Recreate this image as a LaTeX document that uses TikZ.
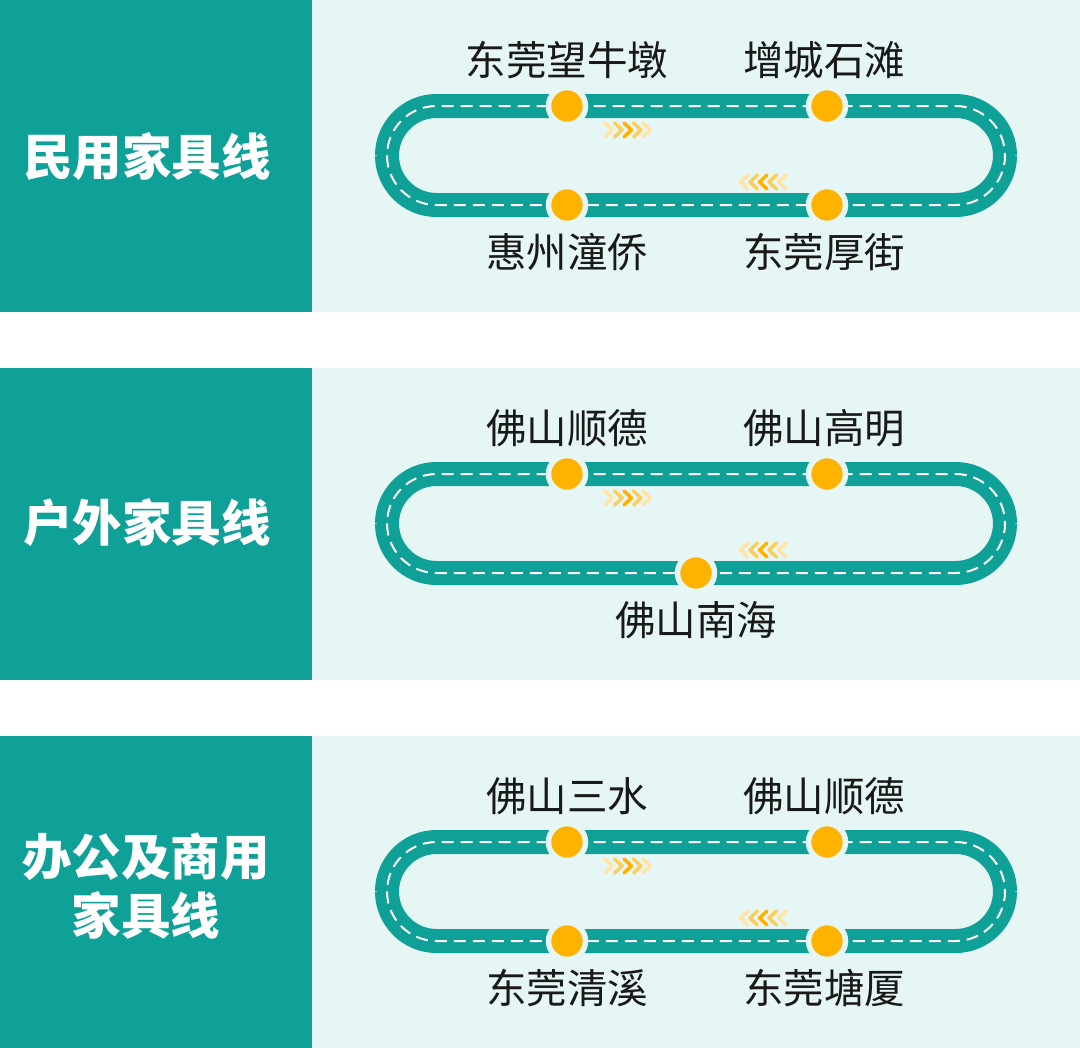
\documentclass[tikz,border=0pt]{standalone}
\usepackage{fontspec}
\setmainfont{Noto Sans CJK SC}
\usetikzlibrary{positioning}
\definecolor{lineteal}{HTML}{0FA098}
\definecolor{panelmint}{HTML}{E5F6F4}
\definecolor{stoporange}{HTML}{FFB300}
\tikzset{
  x=1bp, y=-1bp,
  titlebox/.style={fill=lineteal, draw=none},
  panel/.style={fill=panelmint, draw=none},
  title/.style={text=white, font=\fontsize{49.5bp}{59bp}\selectfont\bfseries, align=center},
  track/.style={draw=lineteal, line width=24bp, rounded corners=49.5bp},
  lane/.style={draw=white, line width=2bp, dash pattern=on 12bp off 7bp, rounded corners=49.5bp},
  stop/.style={circle, fill=stoporange, draw=panelmint, line width=5.5bp, minimum size=37bp, inner sep=0pt},
  place/.style={inner sep=0pt, text=black!90, font=\fontsize{40.5bp}{46bp}\selectfont},
  chev/.style={line width=3.5bp, line cap=round, line join=round}
}

\begin{document}
\begin{tikzpicture}
  \useasboundingbox (0,0) rectangle (1080,1048);

  % civil furniture line
  \begin{scope}
    \fill[titlebox] (0,0) rectangle (312,312);
    \fill[panel] (312,0) rectangle (1080,312);
    \node[title] (T1) at (147,157) {民用家具线};
    \draw[track] (387,106) rectangle (1005,205);
    \draw[lane] (387,106) rectangle (1005,205);
    \foreach \i/\c in {0/35,1/65,2/100,3/65,4/35}
      \draw[chev, draw=stoporange!\c] (605+\i*9.5,123) -- ++(7.5,7) -- ++(-7.5,7);
    \foreach \i/\c in {0/35,1/65,2/100,3/65,4/35}
      \draw[chev, draw=stoporange!\c] (748+\i*9.5,175) -- ++(-7.5,7) -- ++(7.5,7);
    \node[stop] (A1) at (567,106) {};
    \node[stop] (A2) at (827,106) {};
    \node[stop] (A3) at (567,205) {};
    \node[stop] (A4) at (827,205) {};
    \node[place, above=6bp of A1] (LA1) {东莞望牛墩};
    \node[place, above=6bp of A2, xshift=-3bp] (LA2) {增城石滩};
    \node[place, below=7bp of A3] (LA3) {惠州潼侨};
    \node[place, below=7bp of A4, xshift=-3bp] (LA4) {东莞厚街};
  \end{scope}

  % outdoor furniture line
  \begin{scope}[shift={(0,368)}]
    \fill[titlebox] (0,0) rectangle (312,312);
    \fill[panel] (312,0) rectangle (1080,312);
    \node[title] (T2) at (147,155) {户外家具线};
    \draw[track] (387,106) rectangle (1005,205);
    \draw[lane] (387,106) rectangle (1005,205);
    \foreach \i/\c in {0/35,1/65,2/100,3/65,4/35}
      \draw[chev, draw=stoporange!\c] (605+\i*9.5,123) -- ++(7.5,7) -- ++(-7.5,7);
    \foreach \i/\c in {0/35,1/65,2/100,3/65,4/35}
      \draw[chev, draw=stoporange!\c] (748+\i*9.5,175) -- ++(-7.5,7) -- ++(7.5,7);
    \node[stop] (B1) at (567,106) {};
    \node[stop] (B2) at (827,106) {};
    \node[stop] (B3) at (696,205) {};
    \node[place, above=6bp of B1] (LB1) {佛山顺德};
    \node[place, above=6bp of B2, xshift=-3bp] (LB2) {佛山高明};
    \node[place, below=7bp of B3] (LB3) {佛山南海};
  \end{scope}

  % office and commercial furniture line
  \begin{scope}[shift={(0,736)}]
    \fill[titlebox] (0,0) rectangle (312,312);
    \fill[panel] (312,0) rectangle (1080,312);
    \node[title] (T3) at (146,150) {办公及商用\\家具线};
    \draw[track] (387,106) rectangle (1005,205);
    \draw[lane] (387,106) rectangle (1005,205);
    \foreach \i/\c in {0/35,1/65,2/100,3/65,4/35}
      \draw[chev, draw=stoporange!\c] (605+\i*9.5,123) -- ++(7.5,7) -- ++(-7.5,7);
    \foreach \i/\c in {0/35,1/65,2/100,3/65,4/35}
      \draw[chev, draw=stoporange!\c] (748+\i*9.5,175) -- ++(-7.5,7) -- ++(7.5,7);
    \node[stop] (C1) at (567,106) {};
    \node[stop] (C2) at (827,106) {};
    \node[stop] (C3) at (567,205) {};
    \node[stop] (C4) at (827,205) {};
    \node[place, above=6bp of C1] (LC1) {佛山三水};
    \node[place, above=6bp of C2, xshift=-3bp] (LC2) {佛山顺德};
    \node[place, below=7bp of C3] (LC3) {东莞清溪};
    \node[place, below=7bp of C4, xshift=-3bp] (LC4) {东莞塘厦};
  \end{scope}
\end{tikzpicture}
\end{document}
